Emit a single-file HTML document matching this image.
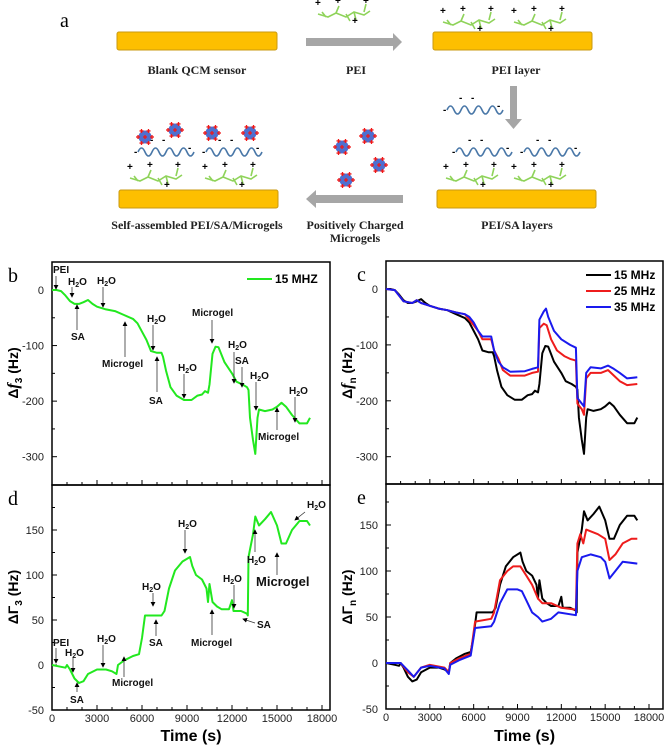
<!DOCTYPE html>
<html><head><meta charset="utf-8"><style>
html,body{margin:0;padding:0;background:#fff;}
svg{display:block;font-family:"Liberation Sans",Arial,sans-serif;}
</style></head><body>
<svg id="fig" width="666" height="749" viewBox="0 0 666 749" xmlns="http://www.w3.org/2000/svg">
<g id="schematic">
<text x="60" y="27" font-family="Liberation Serif,serif" font-size="20">a</text>
<rect x="117" y="32" width="160" height="18" rx="2" fill="#fdbf00" stroke="#c99a10"/>
<rect x="433" y="32" width="159" height="18" rx="2" fill="#fdbf00" stroke="#c99a10"/>
<rect x="437" y="190" width="159" height="18" rx="2" fill="#fdbf00" stroke="#c99a10"/>
<rect x="119" y="190" width="159" height="18" rx="2" fill="#fdbf00" stroke="#c99a10"/>
<polygon points="306,38 393,38 393,33 402,42 393,51 393,46 306,46" fill="#a6a6a6"/>
<polygon points="510,86 517,86 517,119 522,119 513.5,129 505,119 510,119" fill="#a6a6a6"/>
<polygon points="403,195 316,195 316,190 306,199 316,208 316,203 403,203" fill="#a6a6a6"/>
<g font-family="Liberation Serif,serif" font-weight="bold" font-size="12" text-anchor="middle" fill="#222">
<text x="197" y="74">Blank QCM sensor</text>
<text x="356" y="74">PEI</text>
<text x="516" y="74">PEI layer</text>
<text x="197" y="229">Self-assembled PEI/SA/Microgels</text>
<text x="355" y="229">Positively Charged</text>
<text x="355" y="242">Microgels</text>
<text x="517" y="229">PEI/SA layers</text>
</g>
<g id="decor"></g>
</g>
<g id="plots"></g>
</svg>
<script>
const NS="http://www.w3.org/2000/svg";
// ---- data ----
const tF15=[0,300,600,900,1200,1500,1800,2100,2400,2700,3000,3600,4200,4800,5400,5700,6000,6300,6600,7000,7300,7400,7600,7900,8300,8800,9300,9700,10000,10200,10400,10500,10700,10900,11100,11500,12000,12300,12700,13000,13100,13200,13400,13550,13700,13800,14200,14700,15000,15300,15600,16000,16500,17000,17200];
const vF15=[0,0,-2,-10,-20,-25,-25,-22,-18,-25,-30,-35,-38,-45,-52,-60,-75,-90,-110,-113,-113,-120,-145,-175,-190,-198,-198,-190,-188,-182,-185,-170,-115,-102,-103,-130,-150,-165,-170,-175,-180,-230,-270,-295,-230,-215,-218,-215,-210,-203,-210,-225,-240,-240,-230];
const tF25=[0,600,1200,1800,2100,2400,3000,3600,4200,4800,5400,5700,6000,6300,6600,7200,7400,7700,8000,8500,9000,9500,10000,10400,10500,10800,11000,11300,11700,12200,12600,13000,13100,13400,13550,13700,14000,14700,15200,15600,16000,16500,17200];
const vF25=[0,-2,-22,-25,-20,-25,-30,-35,-38,-42,-45,-55,-65,-75,-90,-90,-110,-125,-145,-155,-155,-155,-150,-148,-70,-62,-65,-90,-110,-120,-125,-128,-205,-215,-225,-160,-150,-150,-145,-155,-165,-172,-170];
const tF35=[0,600,1200,1800,2100,2400,3000,3600,4200,4800,5400,5700,6000,6300,6600,7200,7400,7700,8000,8500,9500,10000,10400,10500,10800,10950,11100,11500,12000,12600,13000,13100,13400,13550,13700,14000,14700,15200,15600,16000,16500,17200];
const vF35=[0,-2,-22,-25,-20,-25,-30,-35,-38,-42,-45,-50,-60,-75,-85,-85,-110,-130,-140,-148,-147,-143,-140,-55,-40,-35,-50,-75,-90,-100,-105,-195,-205,-210,-150,-140,-142,-137,-143,-150,-160,-158];
const tG15=[0,600,900,1000,1200,1500,1800,2100,2400,3000,3600,4000,4300,4400,4800,5400,5800,6000,6200,7000,7300,7500,7800,8200,8700,9200,9350,9600,10000,10300,10400,10500,10700,11000,11300,11800,12000,12100,12600,13000,13050,13100,13400,13550,13800,14200,14600,15000,15300,15600,16000,16500,17000,17200];
const vG15=[0,-2,-3,0,-5,-15,-20,-18,-10,-5,-5,-7,-10,0,5,10,12,30,55,55,55,60,85,105,115,120,110,100,95,85,70,90,70,65,62,62,72,60,60,57,55,120,145,165,155,162,170,155,135,135,150,160,160,155];
const tG25=[0,1000,1500,1900,2400,3000,4000,4300,4400,5000,5800,6100,7200,7400,7800,8300,8700,9200,9600,10000,10400,10700,11300,12000,13000,13100,13300,13500,13700,14500,15000,15300,15700,16200,16800,17200];
const vG25=[0,0,-10,-15,-5,-2,-5,-10,0,5,10,45,48,55,90,100,105,105,95,85,70,65,65,60,58,130,140,130,145,140,135,112,118,130,135,135];
const tG35=[0,1000,1500,1900,2400,3000,4000,4300,4400,5000,5800,6100,7200,7400,7800,8300,9000,9300,9700,10000,10400,10700,11300,11800,13000,13100,13400,14000,14700,15000,15300,15700,16200,17200];
const vG35=[0,0,-8,-15,-5,-3,-6,-12,-2,3,8,38,40,45,65,80,80,78,65,55,50,45,48,55,52,100,115,118,115,110,92,100,110,108];
const xTicks=[0,3000,6000,9000,12000,15000,18000];
const fTicks=[0,-100,-200,-300];
const gTicks=[-50,0,50,100,150];

const plots=document.getElementById('plots');
function el(tag,attrs,parent){const e=document.createElementNS(NS,tag);for(const k in attrs)e.setAttribute(k,attrs[k]);(parent||plots).appendChild(e);return e;}
function mkX(x0,x1){return t=>x0+(x1-x0)*t/18000;}
function mkY(y0,v0,y1,v1){return v=>y0+(v-v0)*(y1-y0)/(v1-v0);}
const panels=[
 {id:'b',L:52,R:330,T:262,B:485,X:mkX(52,322),Y:mkY(290,0,456.7,-300),ticks:fTicks,minor:50,vmin:-350,vmax:50,xl:false,lx:8},
 {id:'d',L:52,R:330,T:485,B:710,X:mkX(52,322),Y:mkY(665,0,710,-50),ticks:gTicks,minor:25,vmin:-50,vmax:200,xl:true,lx:8},
 {id:'c',L:386,R:663,T:261,B:484,X:mkX(386,649),Y:mkY(289,0,456.7,-300),ticks:fTicks,minor:50,vmin:-350,vmax:50,xl:false,lx:357},
 {id:'e',L:386,R:663,T:484,B:709,X:mkX(386,649),Y:mkY(663,0,709,-50),ticks:gTicks,minor:25,vmin:-50,vmax:200,xl:true,lx:357}
];
function line(p,ts,vs,color,name){
 let d='';for(let i=0;i<ts.length;i++){d+=(i?'L':'M')+p.X(ts[i]).toFixed(1)+','+p.Y(vs[i]).toFixed(1);}
 const e=el('path',{d:d,fill:'none',stroke:color,'stroke-width':2,'stroke-linejoin':'round'});
 
 
}
panels.forEach(p=>{
 const g=el('rect',{x:p.L,y:p.T,width:p.R-p.L,height:p.B-p.T,fill:'none',stroke:'#000','stroke-width':1.5});
 
 
 for(let v=p.vmin;v<=p.vmax;v+=p.minor){const y=p.Y(v);if(y<p.T+1||y>p.B-1)continue;const maj=p.ticks.includes(v);
  const tk=el('line',{x1:p.L,x2:p.L+(maj?5:3),y1:y,y2:y,stroke:'#000'});
  
  
 }
 p.ticks.forEach(v=>{const t=el('text',{x:p.L-8,y:p.Y(v)+4,'font-size':11,'text-anchor':'end',fill:'#222'});t.textContent=v;
  
  });
 for(let t=0;t<=18000;t+=1000){const x=p.X(t);const maj=t%3000===0;
  const tk=el('line',{x1:x,x2:x,y1:p.B,y2:p.B-(maj?5:3),stroke:'#000'});
  
  }
 if(p.xl){xTicks.forEach(t=>{const tx=el('text',{x:p.X(t),y:p.B+12,'font-size':11,'text-anchor':'middle',fill:'#222'});tx.textContent=t;
  
  });
  const at=el('text',{x:(p.L+p.R)/2,y:741,'font-size':16,'font-weight':'bold','text-anchor':'middle'});at.textContent='Time (s)';
  
  }
 const pl=el('text',{x:p.lx,y:p.T+20,'font-size':20,'font-family':'Liberation Serif,serif'});
 pl.textContent=p.id;
 
 
});
// series
line(panels[0],tF15,vF15,'#22e81f','series-b-15mhz');
line(panels[1],tG15,vG15,'#22e81f','series-d-15mhz');
line(panels[2],tF15,vF15,'#000','series-c-15mhz');
line(panels[2],tF25,vF25,'#ee1c1c','series-c-25mhz');
line(panels[2],tF35,vF35,'#1a1aee','series-c-35mhz');
line(panels[3],tG15,vG15,'#000','series-e-15mhz');
line(panels[3],tG25,vG25,'#ee1c1c','series-e-25mhz');
line(panels[3],tG35,vG35,'#1a1aee','series-e-35mhz');
// legends
function legend(x,y,color,label,name){
 const l=el('line',{x1:x,x2:x+25,y1:y,y2:y,stroke:color,'stroke-width':2});
 
 
 const t=el('text',{x:x+28,y:y+4,'font-size':12,'font-weight':'bold'});t.textContent=label;
 
 
}
legend(247,279,'#22e81f','15 MHZ','legend-b-15mhz');
legend(586,275,'#000','15 MHz','legend-c-15mhz');
legend(586,291,'#ee1c1c','25 MHz','legend-c-25mhz');
legend(586,307,'#1a1aee','35 MHz','legend-c-35mhz');
// y-axis titles
function ytitle(x,y,html,name){const t=el('text',{x:x,y:y,'font-size':14,'font-weight':'bold','text-anchor':'middle',transform:'rotate(-90 '+x+' '+y+')'});t.innerHTML=html;
 
 }
ytitle(18,373,'Δ<tspan font-style="italic" font-family="Liberation Serif,serif" font-size="16">f</tspan><tspan font-size="10" dy="4">3</tspan><tspan dy="-4"> (Hz)</tspan>','y-axis-title-b');
ytitle(18,597,'ΔΓ<tspan font-size="10" dy="4">3</tspan><tspan dy="-4"> (Hz)</tspan>','y-axis-title-d');
ytitle(352,373,'Δ<tspan font-style="italic" font-family="Liberation Serif,serif" font-size="16">f</tspan><tspan font-size="10" dy="4">n</tspan><tspan dy="-4"> (Hz)</tspan>','y-axis-title-c');
ytitle(352,597,'ΔΓ<tspan font-size="10" dy="4">n</tspan><tspan dy="-4"> (Hz)</tspan>','y-axis-title-e');
// annotations
const annB=[["PEI",53,273,56,276,56,289],["H2O",68,285,72,287,72,297],["H2O",97,284,103,287,103,307],["SA",71,340,77,330,77,305],["Microgel",102,367,125,357,125,322],["H2O",147,322,153,325,153,350],["SA",149,404,157,392,157,357],["H2O",178,371,184,374,184,398],["Microgel",192,316,212,320,212,343],["H2O",228,348,234,352,234,383],["SA",235,364,242,367,242,387],["H2O",250,379,256,382,256,410],["H2O",289,394,295,397,295,422],["Microgel",258,440,277,430,277,408],
 ["PEI",53,646,56,648,56,663],["H2O",65,656,73,658,73,672],["SA",70,703,77,692,77,683],["H2O",97,642,103,645,103,667],["Microgel",112,686,124,677,124,657],["H2O",142,590,153,593,153,606],["SA",149,646,156,636,156,620],["H2O",178,527,185,530,185,553],["Microgel",191,646,212,635,212,610],["H2O",223,582,234,585,234,608],["SA",257,628,255,623,243,619],["H2O",247,563,255,552,255,530],["Microgel",256,586,277,575,277,553],["H2O",307,508,305,512,295,520]];
const defs=el('defs',{});
const mk=el('marker',{id:'ah',markerWidth:6,markerHeight:6,refX:5,refY:3,orient:'auto'},defs);
el('path',{d:'M0,0L6,3L0,6z',fill:'#000'},mk);
annB.forEach(a=>{
 const t=el('text',{x:a[1],y:a[2],'font-size':a[0]==='Microgel'&&a[2]===586?13:10,'font-weight':'bold',fill:'#111'});
 if(a[0]==='H2O'){t.innerHTML='H<tspan font-size="7" dy="2">2</tspan><tspan dy="-2">O</tspan>';}else t.textContent=a[0];
 
 
 const l=el('line',{x1:a[3],y1:a[4],x2:a[5],y2:a[6],stroke:'#333','stroke-width':0.8,'marker-end':'url(#ah)'});
 
 
});
// schematic decorations
const dec=document.getElementById('decor');
function d(tag,attrs){return el(tag,attrs,dec);}
function pei(x,y){const g=d('g',{});
 el('path',{d:`M${x},${y}l10,3l8,-4l10,4l8,-5l10,3l6,-4M${x+18},${y-1}l3,-7M${x+36},${y-2}l2,8M${x+46},${y-2}l2,-8M${x+8},${y+3}l-4,-5M${x+28},${y}l4,7`,stroke:'#8fd35a','stroke-width':1.6,fill:'none'},g);
 [[x-3,y-8],[x+17,y-10],[x+45,y-10],[x+34,y+10]].forEach(p=>{const t=el('text',{x:p[0],y:p[1],'font-size':10,'font-weight':'bold'},g);t.textContent='+';});
 
 }
function sa(x,y){const g=d('g',{});let p=`M${x},${y}`;for(let i=0;i<4;i++){p+=` q3.5,-8 7,0 q3.5,8 7,0`;}
 el('path',{d:p,stroke:'#4a78a8','stroke-width':1.6,fill:'none'},g);
 [[x-4,y+3],[x+12,y-9],[x+24,y-9],[x+50,y-1]].forEach(q=>{const t=el('text',{x:q[0],y:q[1],'font-size':10,'font-weight':'bold'},g);t.textContent='-';});
 
 }
function mg(x,y){const g=d('g',{});
 el('circle',{cx:x,cy:y,r:6.5,fill:'#4f6fcf'},g);
 for(let i=0;i<6;i++){const a=i*Math.PI/3;const cx=x+7*Math.cos(a),cy=y+7*Math.sin(a);
  el('path',{d:`M${cx-2},${cy}h4M${cx},${cy-2}v4`,stroke:'#f01818','stroke-width':1.3},g);}
 el('path',{d:`M${x-2},${y}h4M${x},${y-2}v4`,stroke:'#f01818','stroke-width':1.3},g);
 
 }
pei(318,14);pei(443,22);pei(514,22);
sa(447,110);sa(456,152);sa(524,152);
pei(446,178);pei(514,178);
pei(130,178);pei(205,178);sa(138,152);sa(206,152);
[[145,137],[175,130],[212,133],[250,133],[342,147],[368,136],[379,165],[346,180]].forEach(c=>mg(c[0],c[1]));
</script>
</body></html>
